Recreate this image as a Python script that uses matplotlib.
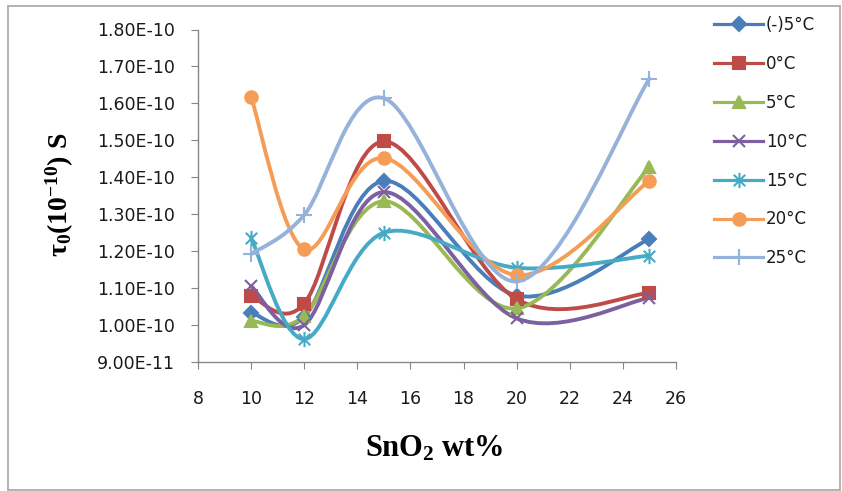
import matplotlib
matplotlib.use('Agg')
import matplotlib.pyplot as plt
import numpy as np
from matplotlib.path import Path
from matplotlib.patches import PathPatch, Rectangle
from matplotlib.lines import Line2D
from matplotlib.ticker import FuncFormatter

plt.rcParams['mathtext.fontset'] = 'custom'
plt.rcParams['mathtext.rm'] = 'Liberation Serif:bold'
plt.rcParams['mathtext.bf'] = 'Liberation Serif:bold'
plt.rcParams['mathtext.it'] = 'Liberation Serif:bold'

# SnO2 content (wt%)
sno2 = [10, 12, 15, 20, 25]

# relaxation time tau0 (s) per temperature
tau_m5 = [1.033e-10, 1.022e-10, 1.390e-10, 1.080e-10, 1.233e-10]
tau_0 = [1.078e-10, 1.058e-10, 1.497e-10, 1.070e-10, 1.087e-10]
tau_5 = [1.011e-10, 1.025e-10, 1.335e-10, 1.045e-10, 1.428e-10]
tau_10 = [1.105e-10, 1.000e-10, 1.360e-10, 1.018e-10, 1.074e-10]
tau_15 = [1.235e-10, 0.962e-10, 1.250e-10, 1.155e-10, 1.188e-10]
tau_20 = [1.617e-10, 1.205e-10, 1.452e-10, 1.135e-10, 1.391e-10]
tau_25 = [1.192e-10, 1.298e-10, 1.614e-10, 1.118e-10, 1.667e-10]

series_labels = ['(-)5°C', '0°C', '5°C', '10°C', '15°C', '20°C', '25°C']
series = [tau_m5, tau_0, tau_5, tau_10, tau_15, tau_20, tau_25]

x_ticks = [8, 10, 12, 14, 16, 18, 20, 22, 24, 26]
y_ticks = [9.0e-11, 1.0e-10, 1.1e-10, 1.2e-10, 1.3e-10, 1.4e-10, 1.5e-10, 1.6e-10, 1.7e-10, 1.8e-10]

# excel style star: x plus a vertical bar
star = Path([(0, -1), (0, 1), (-0.75, -0.75), (0.75, 0.75), (-0.75, 0.75), (0.75, -0.75)],
            [Path.MOVETO, Path.LINETO] * 3)

colors = ['#4A7EBB', '#BE4B48', '#98B954', '#7D60A0', '#46AAC5', '#F59D56', '#95B3DA']
markers = ['D', 's', '^', 'x', star, 'o', '+']
msizes = [7, 9, 9, 9, 11, 9, 12]


def smooth_path(x, y):
    # excel-like smoothed line: bezier segments with catmull-rom tangents
    x = np.asarray(x, float)
    y = np.asarray(y, float)
    n = len(x)
    verts = [(x[0], y[0])]
    codes = [Path.MOVETO]
    for i in range(n - 1):
        a = max(i - 1, 0)
        b = min(i + 2, n - 1)
        c1 = (x[i] + (x[i + 1] - x[a]) / 6, y[i] + (y[i + 1] - y[a]) / 6)
        c2 = (x[i + 1] - (x[b] - x[i]) / 6, y[i + 1] - (y[b] - y[i]) / 6)
        verts += [c1, c2, (x[i + 1], y[i + 1])]
        codes += [Path.CURVE4] * 3
    return Path(verts, codes)


fig = plt.figure(figsize=(8.42, 4.91), dpi=100)
ax = fig.add_axes([198 / 842, 1 - 362 / 491, (676 - 198) / 842, (362 - 29.5) / 491])

handles = []
for vals, lab, c, m, ms in zip(series, series_labels, colors, markers, msizes):
    ax.add_patch(PathPatch(smooth_path(sno2, vals), facecolor='none', edgecolor=c,
                           lw=2.8, capstyle='round', joinstyle='round'))
    ax.plot(sno2, vals, linestyle='none', marker=m, ms=ms, color=c,
            mec=c, mew=1.5)
    handles.append(Line2D([], [], color=c, lw=2.3, marker=m, ms=ms, mew=1.5, label=lab))

ax.set_xlim(8, 26)
ax.set_ylim(0.9e-10, 1.8e-10)
ax.set_xticks(x_ticks)
ax.set_yticks(y_ticks)
ax.yaxis.set_major_formatter(FuncFormatter(lambda v, p: f"{v:.2E}"))

for s in ['top', 'right']:
    ax.spines[s].set_visible(False)
for s in ['left', 'bottom']:
    ax.spines[s].set_color('#868686')
    ax.spines[s].set_linewidth(1.0)
ax.tick_params(axis='both', direction='out', length=5, color='#868686',
               labelsize=12.5, labelcolor='#1a1a1a')
ax.tick_params(axis='y', pad=11.5)
ax.tick_params(axis='x', pad=15)
for t in ax.get_xticklabels() + ax.get_yticklabels():
    t.set_family('DejaVu Sans')

fig.text(434 / 842, 1 - 448 / 491, r'$\mathbf{SnO_2\;wt\%}$', ha='center', va='center',
         fontsize=22)
fig.text(60 / 842, 1 - 195 / 491, r'$\mathbf{\tau_0(10^{-10})\ S}$', ha='center', va='center',
         rotation=90, fontsize=20)

leg = fig.legend(handles=handles, loc='upper left', bbox_to_anchor=(706 / 842, 1 - 8 / 491),
                 frameon=False, borderpad=0, handlelength=2.9, handletextpad=0.2,
                 labelspacing=1.25, prop={'family': 'DejaVu Sans', 'size': 12})
for t in leg.get_texts():
    t.set_color('#1a1a1a')

fig.patches.append(Rectangle((8 / 842, 1 / 491), 832 / 842, 484 / 491, transform=fig.transFigure,
                             fill=False, edgecolor='#a6a6a6', lw=1.2))

fig.savefig('out.png', dpi=100)
